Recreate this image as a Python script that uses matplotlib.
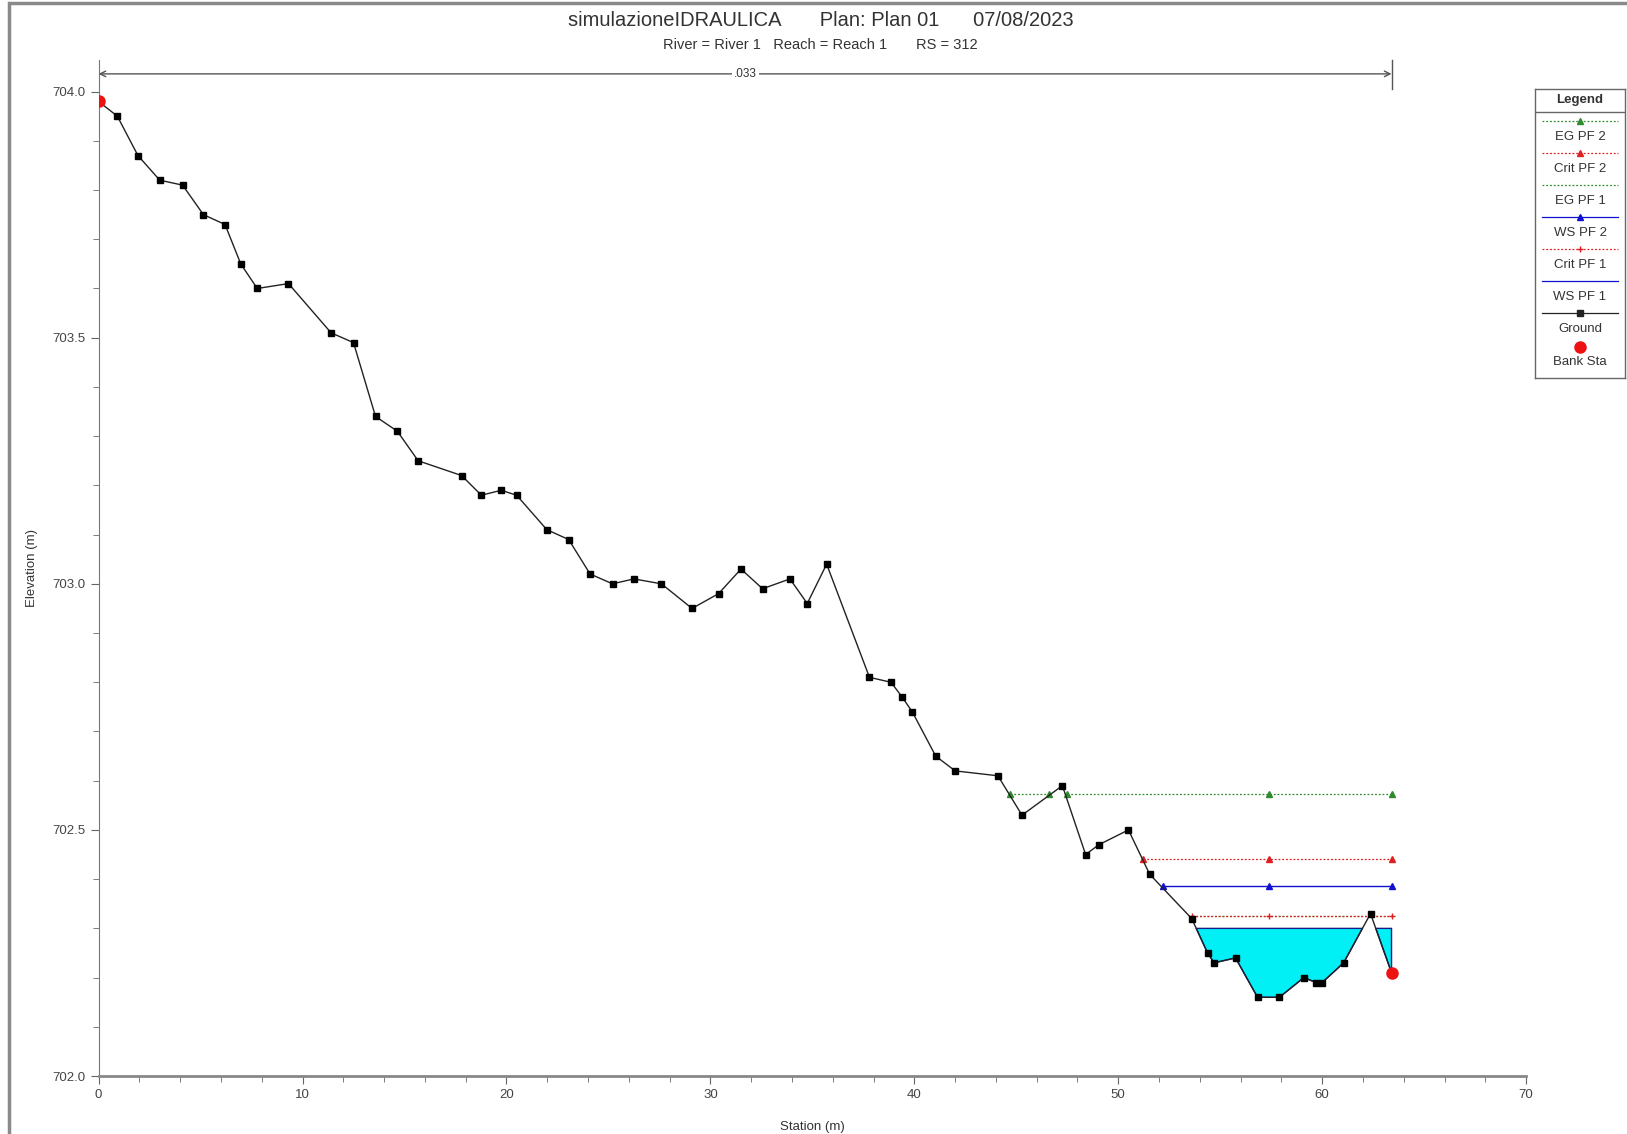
import numpy as np
import matplotlib
matplotlib.use('Agg')
import matplotlib.pyplot as plt
from matplotlib.patches import Rectangle
from matplotlib.ticker import MultipleLocator

plt.rcParams['font.family'] = ['Liberation Sans', 'DejaVu Sans']

# ground profile (station, elevation)
ground_x = [0, 0.92, 1.93, 3.0, 4.12, 5.14, 6.2, 6.97, 7.78, 9.31, 11.4, 12.5, 13.58, 14.65,
            15.67, 17.8, 18.77, 19.74, 20.5, 21.98, 23.05, 24.1, 25.2, 26.25, 27.6, 29.1, 30.4,
            31.5, 32.56, 33.9, 34.75, 35.7, 37.8, 38.86, 39.4, 39.9, 41.05, 42.0, 44.1, 45.28,
            47.26, 48.4, 49.05, 50.5, 51.54, 53.6, 54.38, 54.7, 55.75, 56.83, 57.9, 59.1, 59.7,
            60.0, 61.05, 62.37, 63.4]
ground_y = [703.98, 703.95, 703.87, 703.82, 703.81, 703.75, 703.73, 703.65, 703.60, 703.61,
            703.51, 703.49, 703.34, 703.31, 703.25, 703.22, 703.18, 703.19, 703.18, 703.11,
            703.09, 703.02, 703.00, 703.01, 703.00, 702.95, 702.98, 703.03, 702.99, 703.01,
            702.96, 703.04, 702.81, 702.80, 702.77, 702.74, 702.65, 702.62, 702.61, 702.53,
            702.59, 702.45, 702.47, 702.50, 702.41, 702.32, 702.25, 702.23, 702.24, 702.16,
            702.16, 702.20, 702.19, 702.19, 702.23, 702.33, 702.21]
bank_x = [0, 63.4]
bank_y = [703.98, 702.21]

# water surfaces / energy lines
eg2_x = [44.67, 46.6, np.nan, 47.5, 57.4, 63.4]
eg2_y = 702.573
crit2_x = [51.2, 57.4, 63.4]
crit2_y = 702.44
ws2_x = [52.2, 57.4, 63.4]
ws2_y = 702.386
crit1_x = [53.6, 57.4, 63.4]
crit1_y = 702.325
eg1_x = [53.6, 63.4]
eg1_y = 702.325
ws1_y = 702.30
mann_n = '.033'

fig = plt.figure(figsize=(16.27, 11.34), dpi=100)
fig.patches.append(Rectangle((9 / 1627, -0.05), 1.2, 1 - 3 / 1134 + 0.05,
                             transform=fig.transFigure, fill=False,
                             edgecolor='#8a8a8a', lw=2.5))

ax = fig.add_axes([0.0606, 0.0511, 0.8774, 0.8959])
gx = np.array(ground_x)
gy = np.array(ground_y)

ax.fill_between(gx, gy, ws1_y, where=gy < ws1_y, interpolate=True,
                facecolor='#00f0f5', edgecolor='#1a1a8a', lw=1.0, zorder=2)

ax.plot(eg1_x, [eg1_y] * len(eg1_x), color='#2e8b2e', ls=(0, (1.5, 1.5)), lw=0.9, zorder=3)
ax.plot(eg2_x, [eg2_y] * len(eg2_x), color='#2e8b2e', ls=(0, (1.5, 1.5)), lw=0.9,
        marker='^', ms=4, zorder=3)
ax.plot(crit2_x, [crit2_y] * len(crit2_x), color='#e02020', ls=(0, (1.5, 1.5)), lw=0.9,
        marker='^', ms=4, zorder=3)
ax.plot(ws2_x, [ws2_y] * len(ws2_x), color='#1010d0', ls='-', lw=1.0,
        marker='^', ms=4, zorder=3)
ax.plot(crit1_x, [crit1_y] * len(crit1_x), color='#e02020', ls=(0, (1.5, 1.5)), lw=0.9,
        marker='+', ms=5, zorder=3)

ax.plot(gx, gy, color='#222222', lw=1.0, marker='s', ms=4.5, mfc='black', mec='black', zorder=4)
ax.plot(bank_x, bank_y, ls='none', marker='o', ms=8, color='#ee1111', zorder=5)

# manning n span
y_arrow = 704.036
ax.annotate('', xy=(0, y_arrow), xytext=(63.4, y_arrow),
            arrowprops=dict(arrowstyle='<->', color='#555555', lw=1.0,
                            shrinkA=0, shrinkB=0), zorder=3)
ax.plot([63.4, 63.4], [704.005, 704.064], color='#555555', lw=1.0, clip_on=False)
ax.text(31.7, y_arrow, mann_n, ha='center', va='center', fontsize=8.5, color='#333333',
        bbox=dict(facecolor='white', edgecolor='none', pad=1.5))

ax.set_xlim(0, 70)
ax.set_ylim(702.0, 704.064)
ax.xaxis.set_major_locator(MultipleLocator(10))
ax.xaxis.set_minor_locator(MultipleLocator(2))
ax.yaxis.set_major_locator(MultipleLocator(0.5))
ax.yaxis.set_minor_locator(MultipleLocator(0.1))
ax.yaxis.set_major_formatter(matplotlib.ticker.FormatStrFormatter('%.1f'))
ax.set_yticks([702.0, 702.5, 703.0, 703.5, 704.0])
for s in ['top', 'right']:
    ax.spines[s].set_visible(False)
ax.spines['left'].set_color('#777777')
ax.spines['bottom'].set_color('#888888')
ax.spines['bottom'].set_linewidth(2.0)
ax.tick_params(which='major', length=6, color='#666666', labelsize=9.5, labelcolor='#444444')
ax.tick_params(which='minor', length=4, color='#666666')
ax.set_xlabel('Station (m)', fontsize=9.5, color='#333333', labelpad=14)
ax.set_ylabel('Elevation (m)', fontsize=9.5, color='#333333', labelpad=10)

fig.text(0.5045, 1 - 20 / 1093, 'simulazioneIDRAULICA       Plan: Plan 01      07/08/2023',
         ha='center', va='center', fontsize=14.5, color='#333333')
fig.text(0.504, 1 - 43 / 1093, 'River = River 1   Reach = Reach 1       RS = 312',
         ha='center', va='center', fontsize=10.5, color='#333333')

# legend box (drawn manually, HEC-RAS style)
lg = fig.add_axes([1535 / 1627, 1 - 378 / 1134, 90 / 1627, 289 / 1134])
lg.set_xlim(0, 1)
lg.set_ylim(364, 86)
lg.set_xticks([])
lg.set_yticks([])
for s in lg.spines.values():
    s.set_color('#666666')
    s.set_linewidth(1.0)
lg.axhline(108, color='#666666', lw=1.0)
lg.text(0.5, 97, 'Legend', ha='center', va='center', fontsize=9.5, fontweight='bold', color='#333333')
entries = [
    ('EG PF 2', '#2e8b2e', (0, (1.5, 1.5)), '^', 4),
    ('Crit PF 2', '#e02020', (0, (1.5, 1.5)), '^', 4),
    ('EG PF 1', '#2e8b2e', (0, (1.5, 1.5)), None, 0),
    ('WS PF 2', '#1010d0', '-', '^', 4),
    ('Crit PF 1', '#e02020', (0, (1.5, 1.5)), '+', 5),
    ('WS PF 1', '#1010d0', '-', None, 0),
    ('Ground', '#222222', '-', 's', 4.5),
]
for i, (lab, col, ls, mk, ms) in enumerate(entries):
    yl = 117 + i * 30.8
    lg.plot([0.08, 0.92], [yl, yl], color=col, ls=ls, lw=0.9)
    if mk:
        lg.plot([0.5], [yl], color=col, marker=mk, ms=ms, ls='none')
    lg.text(0.5, yl + 15, lab, ha='center', va='center', fontsize=9.5, color='#333333')
lg.plot([0.5], [334], color='#ee1111', marker='o', ms=8, ls='none')
lg.text(0.5, 349, 'Bank Sta', ha='center', va='center', fontsize=9.5, color='#333333')

fig.savefig('out.png', dpi=100)
plt.close(fig)
